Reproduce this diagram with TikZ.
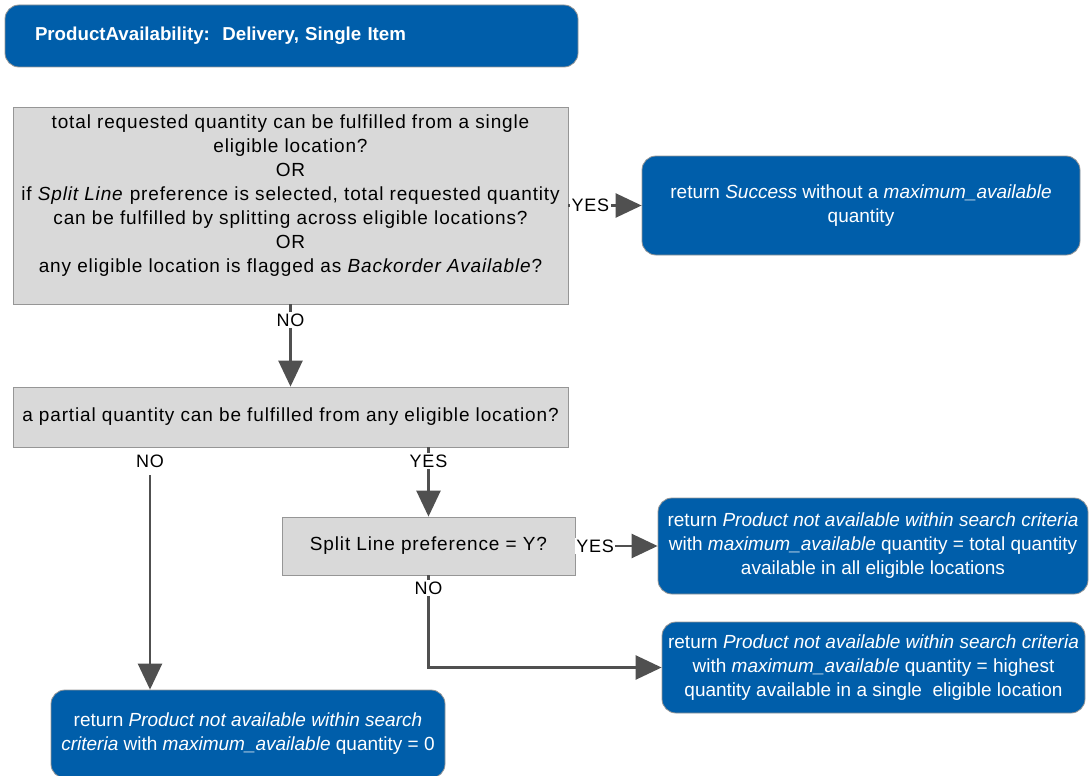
\documentclass[tikz,border=0pt]{standalone}
\usepackage{fontspec}
\setmainfont{Liberation Sans}
\newfontfamily\spacedfont[LetterSpace=4.5]{Liberation Sans}
\usetikzlibrary{arrows.meta,calc}
\definecolor{boxblue}{RGB}{0,94,170}
\definecolor{boxgray}{RGB}{217,217,217}
\definecolor{edgegray}{RGB}{150,150,150}
\definecolor{arrowgray}{RGB}{80,80,80}
\begin{document}
\begin{tikzpicture}[x=1pt,y=-1pt,
  bluebox/.style={font=\fontsize{19}{24}\selectfont, draw=edgegray, line width=0.8pt,
    fill=boxblue, text=white, rounded corners=14pt, align=center, inner sep=0pt},
  graybox/.style={font=\spacedfont\fontsize{19}{24}\selectfont, draw=edgegray,
    line width=0.8pt, fill=boxgray, text=black, align=center, inner sep=0pt},
  flow/.style={draw=arrowgray, line width=2.5pt, -{Triangle[length=26pt,width=24pt]}},
  lbl/.style={font=\spacedfont\fontsize{18}{22}\selectfont, fill=white, text=black,
    inner sep=1.5pt}
]
\clip (0,0) rectangle (1090,776);

% header
\node[bluebox, minimum width=573, minimum height=62, text width=513, align=left,
  font=\fontsize{18.7}{22}\selectfont\bfseries] (title) at (291.5,36)
  {ProductAvailability:\ \ Delivery, Single Item};

% decisions
\node[graybox, minimum width=555, minimum height=197] (q1) at (290.5,205.5)
  {total requested quantity can be fulfilled from a single\\
   eligible location?\\
   OR\\
   if \textit{Split Line} preference is selected, total requested quantity\\
   can be fulfilled by splitting across eligible locations?\\
   OR\\
   any eligible location is flagged as \textit{Backorder Available}?\\
   \mbox{}};
\node[graybox, minimum width=555, minimum height=60] (q2) at (290.5,417)
  {a partial quantity can be fulfilled from any eligible location?};
\node[graybox, minimum width=293, minimum height=58] (q3) at (428.5,546)
  {Split Line preference = Y?};

% outcomes
\node[bluebox, minimum width=438, minimum height=99] (ret1) at (861,205.5)
  {return \textit{Success} without a \textit{maximum\_available}\\ quantity};
\node[bluebox, minimum width=430, minimum height=96] (ret2) at (873,546)
  {return \textit{Product not available within search criteria}\\
   with \textit{maximum\_available} quantity = total quantity\\
   available in all eligible locations};
\node[bluebox, minimum width=423, minimum height=91] (ret3) at (873.5,667.5)
  {return \textit{Product not available within search criteria}\\
   with \textit{maximum\_available} quantity = highest\\
   quantity available in a single\ \ eligible location};
\node[bluebox, minimum width=394, minimum height=88] (ret0) at (248,734)
  {return \textit{Product not available within search}\\
   \textit{criteria} with \textit{maximum\_available} quantity = 0};

% connectors
\draw[flow] (q1.east) -- node[lbl, pos=0.3] {YES} (ret1.west);
\draw[flow] (q1.south) -- node[lbl, pos=0.19] {NO} (q2.north);
\node[lbl] (noA) at (150,461) {NO};
\draw[flow] ([yshift=-6pt]noA.south) -- (noA.south |- ret0.north);
\draw[flow] (q2.south -| q3.north) -- node[lbl, pos=0.2] {YES} (q3.north);
\draw[flow] (q3.east) -- node[lbl, pos=0.24] {YES} (ret2.west);
\draw[flow] (q3.south) |- node[lbl, pos=0.07] {NO} (ret3.west);
\end{tikzpicture}
\end{document}
